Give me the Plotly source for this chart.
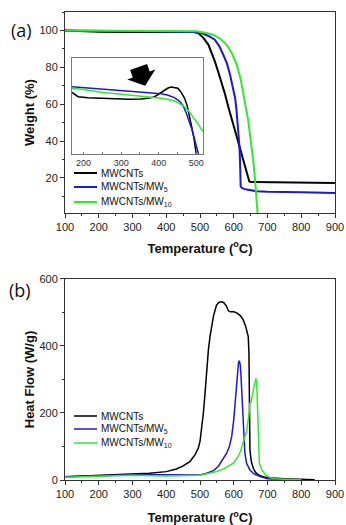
import plotly.graph_objects as go

# ---------------- data ----------------
series_names = ["MWCNTs", "MWCNTs/MW<sub>5</sub>", "MWCNTs/MW<sub>10</sub>"]
series_colors = ["#000000", "#1a1acf", "#30e830"]

# Panel (a): TGA weight (%) vs temperature (°C)
tga_black_T = [100, 150, 200, 300, 400, 450, 480, 495, 510, 525, 535, 544, 554, 564, 574, 584, 600, 615, 630, 646, 650, 700, 800, 900]
tga_black_W = [100, 99.6, 99.3, 99.2, 99.4, 99.5, 99.2, 98.6, 96, 92.2, 88, 83.2, 77.5, 71.8, 65.5, 58.5, 48, 38.5, 29, 18.2, 17.8, 17.7, 17.6, 17.3]

tga_blue_T = [100, 300, 450, 490, 505, 525, 544, 557, 569, 580, 589, 597, 604, 608, 612, 614, 616.5, 618.5, 620, 620.5, 625, 638, 668, 700, 800, 900]
tga_blue_W = [100, 99.6, 99.5, 99.2, 98.6, 97, 95, 91.5, 86.8, 82, 76, 70, 63.4, 57, 49, 44, 38, 30, 20, 15.5, 14.5, 13.7, 12.8, 12.5, 12.2, 11.9]

tga_green_T = [100, 300, 450, 490, 515, 539, 560, 579, 595, 609, 620, 628, 636, 643, 650, 658, 664, 668, 671]
tga_green_W = [100, 99.7, 99.7, 99.5, 98.8, 97.7, 95.5, 92.2, 87.5, 81.4, 74, 65, 58, 51, 41, 29, 17, 8, 0]

# Inset of panel (a): magnified region (arbitrary vertical units)
ins_black_T = [169, 185, 212, 250, 291, 320, 353, 375, 389, 403, 416, 425, 433, 442, 451, 460, 469, 476, 482, 488, 494, 500]
ins_black_v = [64, 59.5, 58.5, 57.7, 57, 56.8, 57, 58, 59.5, 63, 66.4, 68.5, 69.5, 69.2, 68.2, 64, 57.8, 50, 40.5, 28, 16.3, 0]

ins_blue_T = [169, 200, 247, 300, 336, 380, 407, 425, 442, 455, 464, 473, 482, 489, 495, 501, 506]
ins_blue_v = [69.9, 69, 67.5, 66.3, 65.4, 64, 62.6, 61, 58.5, 55, 50.9, 43, 33.6, 25, 16.3, 8, 0]

ins_green_T = [169, 200, 247, 300, 336, 380, 407, 430, 442, 455, 469, 482, 495, 507, 518]
ins_green_v = [68.2, 67, 64, 62, 60.6, 58.8, 57.8, 56.3, 55, 52.5, 49, 43.5, 37, 30, 23.2]

# Panel (b): heat flow (W/g) vs temperature (°C)
hf_black_T = [100, 150, 200, 250, 300, 350, 400, 430, 450, 470, 485, 495, 500, 505, 510, 515, 520, 525, 530, 540, 549, 556, 562, 570, 578, 584, 590, 600, 610, 620, 628, 635, 640, 643, 645, 646, 647, 648, 652, 658, 665, 675, 687, 700, 750, 800, 840]
hf_black_H = [10, 12, 14, 16, 18, 20, 25, 33, 42, 55, 75, 95, 115, 150, 200, 260, 330, 390, 430, 490, 522, 530, 532, 530, 520, 505, 502, 502, 498, 490, 478, 460, 440, 428, 380, 278, 180, 90, 55, 35, 22, 14, 10, 7, 4, 2, 1]

hf_blue_T = [100, 200, 300, 400, 450, 500, 520, 540, 555, 569, 579, 587, 594, 600, 604, 608, 611, 614, 616.5, 619, 621, 624, 626, 628, 631, 633, 638, 648, 660, 678, 700, 750, 800]
hf_blue_H = [10, 14, 16, 16, 15, 15, 20, 28, 42, 65, 80, 100, 130, 180, 230, 290, 330, 350, 356, 345, 320, 270, 220, 180, 120, 80, 50, 30, 18, 10, 4, 1, 0.5]

hf_green_T = [100, 200, 300, 400, 450, 500, 549, 570, 599, 610, 620, 630, 638, 645, 648, 650, 652, 656, 660, 664, 666, 668, 670, 672, 673, 676, 683, 692, 702, 720, 750, 800]
hf_green_H = [8, 12, 14, 12, 12, 14, 25, 33, 50, 65, 85, 115, 145, 195, 232, 228, 235, 255, 280, 300, 303, 290, 230, 150, 80, 50, 30, 18, 10, 4, 2, 1]

# axis tick values
temp_ticks = [100, 200, 300, 400, 500, 600, 700, 800, 900]
weight_ticks = [20, 40, 60, 80, 100]
heat_ticks = [0, 200, 400, 600]
inset_ticks = [200, 300, 400, 500]

# decorative arrow in the inset (inset coordinates)
arrow_T = [324, 369, 376, 391, 364, 316, 331]
arrow_v = [87.2, 93.5, 85.7, 87.7, 70.8, 77.4, 79.4]

# ---------------- figure ----------------
FONT = "Liberation Sans"
W, H = 346, 525
ML, MR, MT, MB = 65, 11, 12, 45
PW, PH = W - ML - MR, H - MT - MB


def px_to_paper(xp, yp):
    return (xp - ML) / PW, (H - MB - yp) / PH


fig = go.Figure()

tga = [(tga_black_T, tga_black_W), (tga_blue_T, tga_blue_W), (tga_green_T, tga_green_W)]
ins = [(ins_black_T, ins_black_v), (ins_blue_T, ins_blue_v), (ins_green_T, ins_green_v)]
hf = [(hf_black_T, hf_black_H), (hf_blue_T, hf_blue_H), (hf_green_T, hf_green_H)]

for (x, y), name, col in zip(tga, series_names, series_colors):
    fig.add_trace(go.Scatter(x=x, y=y, mode="lines", name=name, line=dict(color=col, width=2),
                             xaxis="x", yaxis="y", showlegend=False))
for (x, y), name, col in zip(ins, series_names, series_colors):
    fig.add_trace(go.Scatter(x=x, y=y, mode="lines", name=name, line=dict(color=col, width=1.5),
                             xaxis="x3", yaxis="y3", showlegend=False))
for (x, y), name, col in zip(hf, series_names, series_colors):
    fig.add_trace(go.Scatter(x=x, y=y, mode="lines", name=name, line=dict(color=col, width=1.5),
                             xaxis="x2", yaxis="y2", showlegend=False))

tickfont = dict(family=FONT, size=11, color="#222")
titlefont = dict(family=FONT, size=13, color="#111")
common = dict(showline=True, mirror=True, linecolor="#333", linewidth=1, showgrid=False,
              zeroline=False, ticks="outside", ticklen=4, tickcolor="#333", tickfont=tickfont,
              automargin=False)

xcommon = dict(common, range=[100, 900], tickvals=temp_ticks,
               minor=dict(dtick=50, tick0=100, ticks="outside", ticklen=2, tickcolor="#333"))

fig.update_layout(
    width=W, height=H,
    margin=dict(l=ML, r=MR, t=MT, b=MB),
    paper_bgcolor="white", plot_bgcolor="white",
    showlegend=False,
    xaxis=dict(xcommon, domain=[0, 1], anchor="y",
               title=dict(text="<b>Temperature (<sup>o</sup>C)</b>", font=titlefont, standoff=11)),
    yaxis=dict(common, domain=[0.5705, 1], anchor="x", range=[1, 110], tickvals=weight_ticks,
               minor=dict(dtick=10, tick0=0, ticks="outside", ticklen=2, tickcolor="#333"),
               title=dict(text="<b>Weight (%)</b>", font=titlefont, standoff=1)),
    xaxis2=dict(xcommon, domain=[0, 1], anchor="y2",
                title=dict(text="<b>Temperature (<sup>o</sup>C)</b>", font=titlefont, standoff=14)),
    yaxis2=dict(common, domain=[0, 0.4295], anchor="x2", range=[0, 600], tickvals=heat_ticks,
                minor=dict(dtick=100, tick0=0, ticks="outside", ticklen=2, tickcolor="#333"),
                title=dict(text="<b>Heat Flow (W/g)</b>", font=titlefont, standoff=1)),
    xaxis3=dict(domain=[0.0259, 0.511], anchor="y3", range=[169, 518], tickvals=inset_ticks,
                showline=True, mirror=True, linecolor="#777", linewidth=1, showgrid=False, zeroline=False,
                ticks="inside", ticklen=2, tickcolor="#777", automargin=False,
                minor=dict(dtick=50, ticks="inside", ticklen=1.5, tickcolor="#777"),
                tickfont=dict(family=FONT, size=9, color="#333")),
    yaxis3=dict(domain=[0.6966, 0.9024], anchor="x3", range=[0, 100], automargin=False,
                showline=True, mirror=True, linecolor="#777", linewidth=1, showgrid=False, zeroline=False,
                showticklabels=False, ticks=""),
)

arrow_path = "M " + " L ".join(f"{t},{v}" for t, v in zip(arrow_T, arrow_v)) + " Z"
fig.add_shape(type="path", path=arrow_path, xref="x3", yref="y3",
              fillcolor="black", line=dict(width=0))

# hand-placed legends (line sample + label), one per panel
legend_rows = {"a": [173, 187, 202], "b": [416, 429, 443]}
for panel, rows in legend_rows.items():
    for yp, name, col in zip(rows, series_names, series_colors):
        x0, y0 = px_to_paper(74, yp)
        x1, _ = px_to_paper(97, yp)
        xt, _ = px_to_paper(99, yp)
        fig.add_shape(type="line", xref="paper", yref="paper", x0=x0, x1=x1, y0=y0, y1=y0,
                      line=dict(color=col, width=2 if panel == "a" else 1.5))
        fig.add_annotation(text=name, x=xt, y=y0, xref="paper", yref="paper", showarrow=False,
                           xanchor="left", yanchor="middle",
                           font=dict(family=FONT, size=10, color="#111"))

for label, (xp, yp) in {"(a)": (21, 30), "(b)": (20, 290)}.items():
    xa, ya = px_to_paper(xp, yp)
    fig.add_annotation(text=label, x=xa, y=ya, xref="paper", yref="paper", showarrow=False,
                       xanchor="center", yanchor="middle",
                       font=dict(family="Open Sans", size=18, color="#111"))

fig.write_html("out.html")
